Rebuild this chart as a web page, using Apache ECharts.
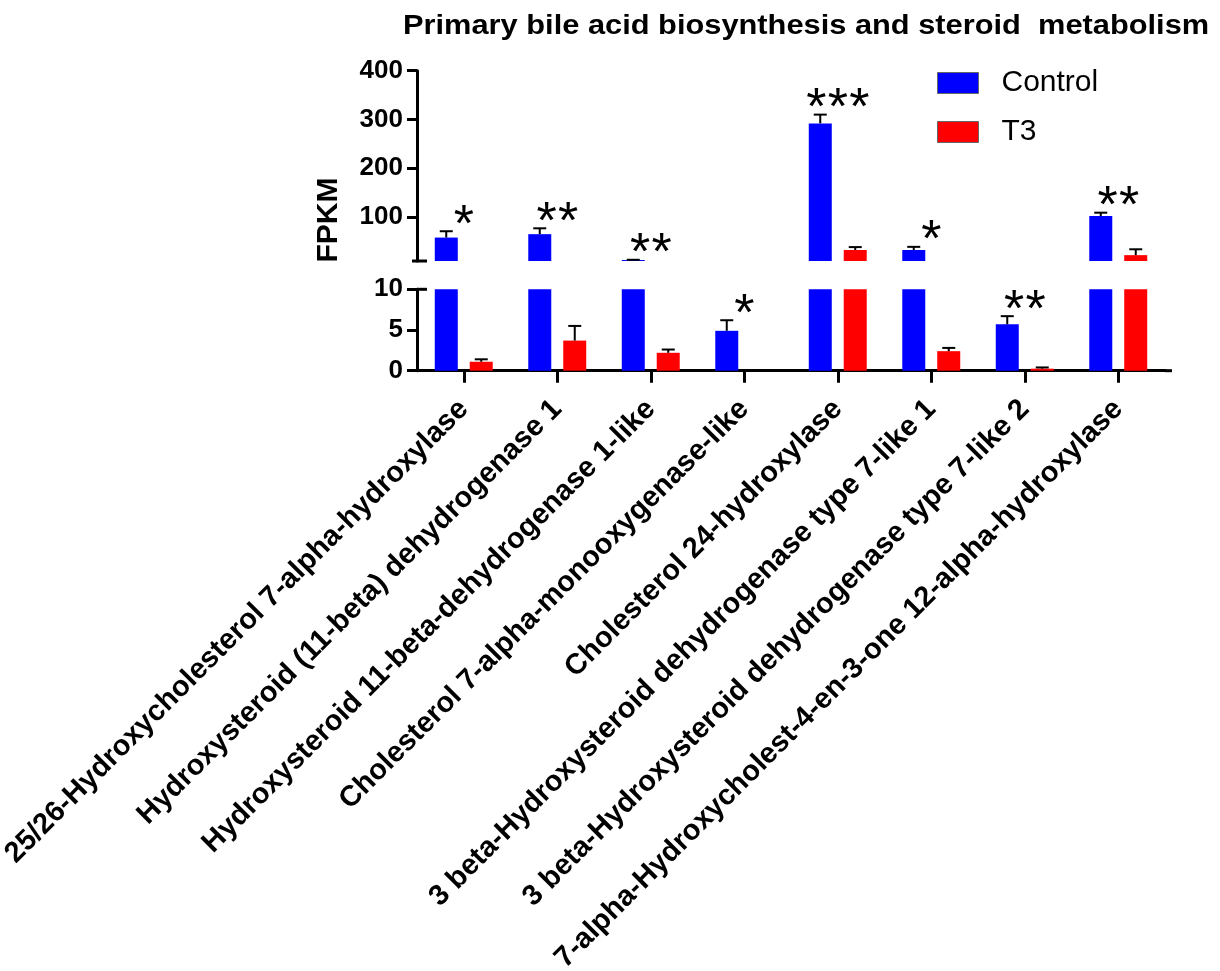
<!DOCTYPE html>
<html>
<head>
<meta charset="utf-8">
<script src="https://cdn.jsdelivr.net/npm/echarts@6/dist/echarts.min.js"></script>
<style>
  html, body { margin: 0; padding: 0; background: #fff; }
  #chart { width: 1220px; height: 971px; }
</style>
</head>
<body>
<div id="chart"></div>
<script>
// Genes on the x axis
const categories = [
  '25/26-Hydroxycholesterol 7-alpha-hydroxylase',
  'Hydroxysteroid (11-beta) dehydrogenase 1',
  'Hydroxysteroid 11-beta-dehydrogenase 1-like',
  'Cholesterol 7-alpha-monooxygenase-like',
  'Cholesterol 24-hydroxylase',
  '3 beta-Hydroxysteroid dehydrogenase type 7-like 1',
  '3 beta-Hydroxysteroid dehydrogenase type 7-like 2',
  '7-alpha-Hydroxycholest-4-en-3-one 12-alpha-hydroxylase'
];
// FPKM means and their error (upper whisker)
const control    = [58, 65, 12, 4.9, 292, 32.5, 5.7, 102];
const controlErr = [13, 12, 0.5, 1.3, 18, 6.5, 1.0, 7];
const t3         = [1.1, 3.7, 2.2, 0, 32.5, 2.4, 0.25, 22];
const t3Err      = [0.3, 1.8, 0.4, 0, 6, 0.4, 0.15, 12];
// Significance marks above each gene
const marks = ['*', '**', '**', '*', '***', '*', '**', '**'];
// Broken y axis: lower segment 0-10, upper segment 10-400
const lowerTicks = [0, 5, 10];
const upperTicks = [100, 200, 300, 400];
const BREAK = 10;
const TOP = 400;
const TITLE = 'Primary bile acid biosynthesis and steroid  metabolism';

const BLUE = '#0000ff';
const RED = '#ff0000';
const FONT = '"Liberation Sans", Arial, sans-serif';
const BAR_W = 23;
const BAR_OFFSET = 17.5;   // half bar width + half the gap between the pair
const CAP = 6.5;

const chart = echarts.init(document.getElementById('chart'), null, { renderer: 'canvas' });

function errorBars(values, errs, dx, inUpper) {
  return function (params, api) {
    const i = params.dataIndex;
    const v = values[i], e = errs[i];
    if (!e) return null;
    if (inUpper && v < BREAK) return null;
    if (!inUpper && v + e > BREAK) return null;
    const b = api.coord([i, v]);
    const t = api.coord([i, v + e]);
    const x = b[0] + dx;
    const st = { stroke: '#000', lineWidth: 2 };
    return {
      type: 'group',
      children: [
        { type: 'line', shape: { x1: x, y1: b[1], x2: x, y2: t[1] }, style: st },
        { type: 'line', shape: { x1: x - CAP, y1: t[1], x2: x + CAP, y2: t[1] }, style: st }
      ]
    };
  };
}

function starMarks(inUpper) {
  return function (params, api) {
    const i = params.dataIndex;
    const top = control[i] + controlErr[i];
    if (inUpper !== (top > BREAK)) return null;
    const p = api.coord([i, top]);
    const n = marks[i].length;
    const children = [];
    for (let k = 0; k < n; k++) {
      children.push({
        type: 'text',
        style: {
          x: p[0] + (k - (n - 1) / 2) * 21.5,
          y: p[1] - 5,
          text: '*',
          fontSize: 52,
          fontFamily: FONT,
          fill: '#000',
          align: 'center',
          verticalAlign: 'middle'
        }
      });
    }
    return { type: 'group', children };
  };
}

const idxData = categories.map((c, i) => [i, 0]);

const axisLineStyle = { show: true, lineStyle: { color: '#000', width: 3 } };

const option = {
  animation: false,
  backgroundColor: '#fff',
  legend: {
    orient: 'vertical',
    left: 937,
    top: 68,
    padding: 0,
    itemWidth: 41,
    itemHeight: 21,
    itemGap: 19,
    icon: 'rect',
    data: ['Control', 'T3'],
    itemStyle: { borderColor: '#666', borderWidth: 1 },
    textStyle: { fontFamily: FONT, fontSize: 30, color: '#000', lineHeight: 30, padding: [0, 0, 0, 18] }
  },
  grid: [
    { left: 417, width: 748, top: 70.7, height: 190.3, outerBoundsMode: 'none', containLabel: false },
    { left: 417, width: 748, top: 289.3, height: 81.4, outerBoundsMode: 'none', containLabel: false }
  ],
  xAxis: [
    {
      type: 'category', gridIndex: 0, data: categories,
      show: false
    },
    {
      type: 'category', gridIndex: 1, data: categories,
      axisLine: axisLineStyle,
      axisTick: { show: true, alignWithLabel: true, length: 12, lineStyle: { color: '#000', width: 3 } },
      axisLabel: {
        rotate: 45, margin: 34, interval: 0,
        fontFamily: FONT, fontSize: 29, fontWeight: 'bold', color: '#000'
      }
    }
  ],
  yAxis: [
    {
      type: 'value', gridIndex: 0, min: BREAK, max: TOP,
      splitLine: { show: false },
      axisLine: axisLineStyle,
      axisTick: { show: true, length: 10, lineStyle: { color: '#000', width: 3 }, customValues: upperTicks },
      axisLabel: {
        customValues: upperTicks, margin: 14,
        fontFamily: FONT, fontSize: 26, fontWeight: 'bold', color: '#000'
      }
    },
    {
      type: 'value', gridIndex: 1, min: 0, max: BREAK,
      splitLine: { show: false },
      axisLine: axisLineStyle,
      axisTick: { show: true, length: 10, lineStyle: { color: '#000', width: 3 }, customValues: lowerTicks },
      axisLabel: {
        customValues: lowerTicks, margin: 14,
        fontFamily: FONT, fontSize: 26, fontWeight: 'bold', color: '#000'
      }
    }
  ],
  series: [
    // upper segment
    { name: 'Control', type: 'bar', xAxisIndex: 0, yAxisIndex: 0, data: control, barWidth: BAR_W, barGap: '52%', itemStyle: { color: BLUE }, clip: true },
    { name: 'T3', type: 'bar', xAxisIndex: 0, yAxisIndex: 0, data: t3, barWidth: BAR_W, barGap: '52%', itemStyle: { color: RED }, clip: true },
    // lower segment
    { name: 'Control', type: 'bar', xAxisIndex: 1, yAxisIndex: 1, data: control, barWidth: BAR_W, barGap: '52%', itemStyle: { color: BLUE }, clip: true },
    { name: 'T3', type: 'bar', xAxisIndex: 1, yAxisIndex: 1, data: t3, barWidth: BAR_W, barGap: '52%', itemStyle: { color: RED }, clip: true },
    // error bars
    { type: 'custom', xAxisIndex: 0, yAxisIndex: 0, data: idxData, renderItem: errorBars(control, controlErr, -BAR_OFFSET, true), z: 3 },
    { type: 'custom', xAxisIndex: 0, yAxisIndex: 0, data: idxData, renderItem: errorBars(t3, t3Err, BAR_OFFSET, true), z: 3 },
    { type: 'custom', xAxisIndex: 1, yAxisIndex: 1, data: idxData, renderItem: errorBars(control, controlErr, -BAR_OFFSET, false), z: 3 },
    { type: 'custom', xAxisIndex: 1, yAxisIndex: 1, data: idxData, renderItem: errorBars(t3, t3Err, BAR_OFFSET, false), z: 3 },
    // significance marks
    { type: 'custom', xAxisIndex: 0, yAxisIndex: 0, data: idxData, renderItem: starMarks(true), clip: false, z: 4 },
    { type: 'custom', xAxisIndex: 1, yAxisIndex: 1, data: idxData, renderItem: starMarks(false), clip: false, z: 4 }
  ]
};

chart.setOption(option);

// Axis break marks, titles, placed from the axes' own scales
const c0 = chart.convertToPixel({ gridIndex: 1 }, [0, 0]);
const c1 = chart.convertToPixel({ gridIndex: 1 }, [1, 0]);
const band = c1[0] - c0[0];
const axisX = c0[0] - band / 2;
const axisRight = axisX + band * categories.length;
const yUpperBreak = chart.convertToPixel({ yAxisIndex: 0 }, BREAK);
const yLowerBreak = chart.convertToPixel({ yAxisIndex: 1 }, BREAK);
const yZero = chart.convertToPixel({ yAxisIndex: 1 }, 0);
const tickStyle = { stroke: '#000', lineWidth: 3 };

chart.setOption({
  graphic: [
    { type: 'line', shape: { x1: axisX - 5, y1: yUpperBreak, x2: axisX + 10, y2: yUpperBreak }, style: tickStyle, z: 10 },
    { type: 'line', shape: { x1: axisX, y1: yLowerBreak, x2: axisX + 10, y2: yLowerBreak }, style: tickStyle, z: 10 },
    { type: 'line', shape: { x1: axisRight, y1: yZero, x2: axisRight + 7, y2: yZero }, style: tickStyle, z: 10 },
    {
      type: 'text', x: 329, y: 220, rotation: Math.PI / 2,
      style: { text: 'FPKM', fontFamily: FONT, fontSize: 30, fontWeight: 'bold', fill: '#000', align: 'center', verticalAlign: 'middle' }
    },
    {
      type: 'text', x: 403, y: 26, scaleX: 1.1,
      style: { text: TITLE, fontFamily: FONT, fontSize: 28, fontWeight: 'bold', fill: '#000', align: 'left', verticalAlign: 'middle' }
    }
  ]
});
</script>
</body>
</html>
